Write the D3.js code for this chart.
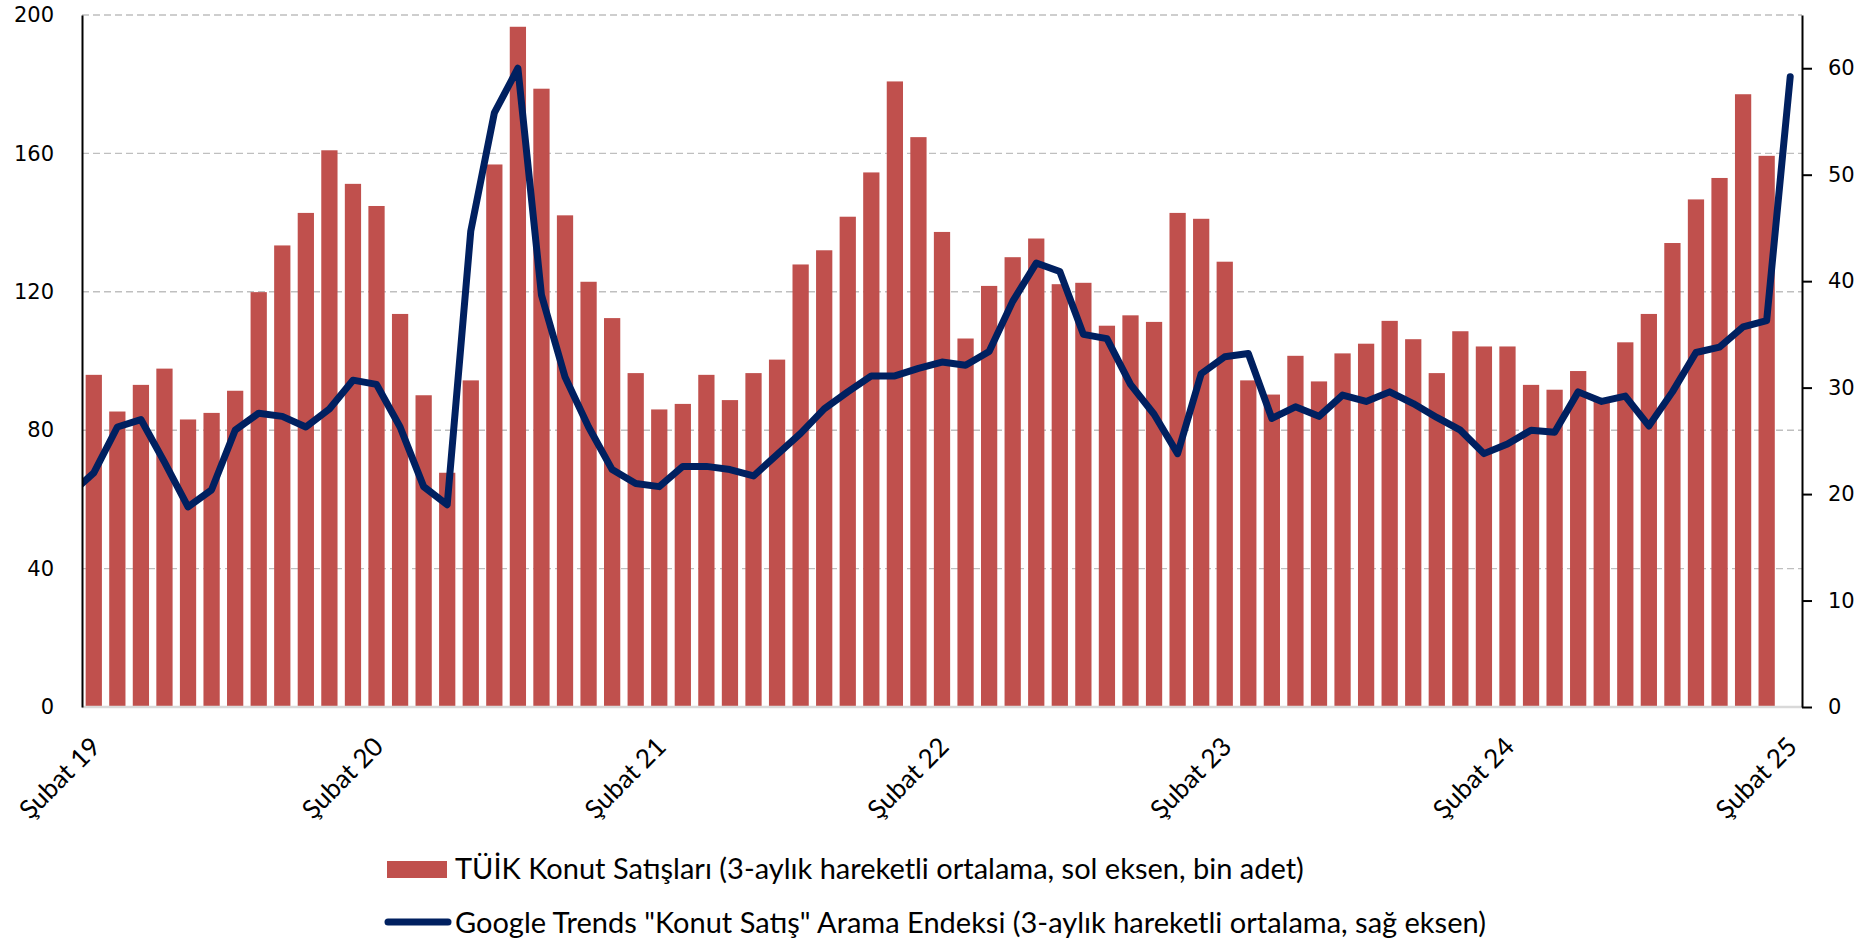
<!doctype html>
<html>
<head>
<meta charset="utf-8">
<script src="https://d3js.org/d3.v7.min.js"></script>
<style>
  body { margin: 0; background: #fff; }
</style>
</head>
<body>
<script>
    var width = 1870, height = 945;
    var plotLeft = 82, plotRight = 1802, plotTop = 15, plotBottom = 707;

    // months from Ocak 2019 to Şubat 2025
    var fmt = d3.timeFormat("%Y-%m");
    var months = d3.timeMonths(new Date(2019, 0, 1), new Date(2025, 2, 1)).map(fmt);

    // TÜİK konut satışları, bin adet (Şubat 2019 - Ocak 2025)
    var salesMonths = months.slice(1, 73);
    var salesValues = [96.0, 85.4, 93.1, 97.8, 83.1, 85.0, 91.4, 119.9, 133.4, 142.8,
                       160.9, 151.2, 144.8, 113.6, 90.1, 67.7, 94.4, 156.8, 196.6, 178.7,
                       142.1, 122.9, 112.4, 96.5, 86.0, 87.6, 96.0, 88.7, 96.5, 100.4,
                       127.9, 132.0, 141.7, 154.5, 180.8, 164.7, 137.3, 106.5, 121.7, 130.0,
                       135.4, 122.2, 122.6, 110.2, 113.2, 111.3, 142.8, 141.1, 128.7, 94.4,
                       90.3, 101.5, 94.1, 102.2, 105.0, 111.6, 106.3, 96.5, 108.6, 104.2,
                       104.2, 93.1, 91.7, 97.1, 88.5, 105.4, 113.6, 134.1, 146.7, 152.9,
                       177.1, 159.3];

    // Google Trends endeksi (Ocak 2019 - Şubat 2025)
    var trendValues = [20.0,
                       22.0, 26.3, 27.0, 23.0, 18.8, 20.4, 26.0, 27.6, 27.3, 26.3,
                       28.0, 30.7, 30.3, 26.3, 20.7, 19.0, 44.7, 55.8, 60.0, 38.7,
                       31.0, 26.3, 22.3, 21.0, 20.7, 22.6, 22.6, 22.3, 21.7, 23.7,
                       25.7, 28.0, 29.6, 31.1, 31.1, 31.8, 32.4, 32.1, 33.4, 38.1,
                       41.7, 40.9, 35.0, 34.6, 30.3, 27.5, 23.8, 31.3, 32.9, 33.2,
                       27.1, 28.2, 27.3, 29.3, 28.7, 29.6, 28.5, 27.2, 26.0, 23.8,
                       24.7, 26.0, 25.8, 29.6, 28.7, 29.2, 26.4, 29.6, 33.3, 33.8,
                       35.7, 36.3, 59.2];

    var tickMonths = ["2019-02", "2020-02", "2021-02", "2022-02", "2023-02", "2024-02", "2025-02"];
    var tickLabels = ["Şubat 19", "Şubat 20", "Şubat 21", "Şubat 22", "Şubat 23", "Şubat 24", "Şubat 25"];
    var leftTicks = [0, 40, 80, 120, 160, 200];
    var rightTicks = [0, 10, 20, 30, 40, 50, 60];

    var legendLabels = ["TÜİK Konut Satışları (3-aylık hareketli ortalama, sol eksen, bin adet)",
                        "Google Trends \"Konut Satış\" Arama Endeksi (3-aylık hareketli ortalama, sağ eksen)"];

    var barColor = "#C0504D", lineColor = "#002060";

    var step = (plotRight - plotLeft) / 73;
    var x = d3.scaleBand()
              .domain(months)
              .range([plotLeft - step, plotRight])
              .paddingInner(0.31)
              .paddingOuter(0.155);
    var yL = d3.scaleLinear().domain([0, 200]).range([plotBottom, plotTop]);
    var yR = d3.scaleLinear().domain([0, 65]).range([plotBottom, plotTop]);

    var svg = d3.select("body").append("svg")
                .attr("width", width)
                .attr("height", height)
                .style("display", "block");

    svg.append("clipPath").attr("id", "plot")
       .append("rect")
       .attr("x", plotLeft).attr("y", 0)
       .attr("width", plotRight - plotLeft).attr("height", plotBottom + 5);

    // gridlines
    svg.append("g").selectAll("line")
       .data(leftTicks.filter(function(d){ return d > 0; }))
       .enter().append("line")
       .attr("x1", plotLeft).attr("x2", plotRight)
       .attr("y1", function(d){ return yL(d); })
       .attr("y2", function(d){ return yL(d); })
       .attr("stroke", "#BFBFBF")
       .attr("stroke-width", 1.4)
       .attr("stroke-dasharray", "7,4");

    // bars
    svg.append("g").attr("clip-path", "url(#plot)")
       .selectAll("rect")
       .data(salesValues)
       .enter().append("rect")
       .attr("x", function(d, i){ return x(salesMonths[i]); })
       .attr("y", function(d){ return yL(d); })
       .attr("width", x.bandwidth())
       .attr("height", function(d){ return yL(0) - yL(d); })
       .attr("fill", barColor);

    // baseline
    svg.append("line")
       .attr("x1", plotLeft).attr("x2", plotRight)
       .attr("y1", yL(0)).attr("y2", yL(0))
       .attr("stroke", "#D9D9D9")
       .attr("stroke-width", 2.5);

    // trend line
    var line = d3.line()
                 .x(function(d, i){ return x(months[i]) + x.bandwidth() / 2; })
                 .y(function(d){ return yR(d); });

    svg.append("path")
       .datum(trendValues)
       .attr("clip-path", "url(#plot)")
       .attr("d", line)
       .attr("fill", "none")
       .attr("stroke", lineColor)
       .attr("stroke-width", 7)
       .attr("stroke-linejoin", "round")
       .attr("stroke-linecap", "round");

    // axes
    var leftAxis = svg.append("g")
                      .attr("transform", "translate(" + plotLeft + ",0)")
                      .call(d3.axisLeft(yL).tickValues(leftTicks).tickSize(0).tickPadding(28));
    var rightAxis = svg.append("g")
                       .attr("transform", "translate(" + plotRight + ",0)")
                       .call(d3.axisRight(yR).tickValues(rightTicks).tickSize(10).tickSizeOuter(0).tickPadding(16));

    [leftAxis, rightAxis].forEach(function(g){
        g.select(".domain").attr("stroke", "#000").attr("stroke-width", 2);
        g.selectAll(".tick line").attr("stroke", "#000").attr("stroke-width", 2);
        g.selectAll("text")
         .attr("fill", "#000")
         .style("font-family", "'DejaVu Sans', Verdana, sans-serif")
         .style("font-size", "21px");
    });

    // x labels
    svg.append("g").selectAll("text")
       .data(tickMonths)
       .enter().append("text")
       .attr("transform", function(d){
           return "translate(" + (x(d) + x.bandwidth() / 2 + 2) + ",742) rotate(-45)";
       })
       .attr("text-anchor", "end")
       .attr("dy", "0.35em")
       .style("font-family", "Lato, sans-serif")
       .style("font-size", "26px")
       .text(function(d, i){ return tickLabels[i]; });

    // legend
    var legend = svg.append("g").style("font-family", "Lato, sans-serif").style("font-size", "29px");
    legend.append("rect")
          .attr("x", 387).attr("y", 861)
          .attr("width", 60).attr("height", 17)
          .attr("fill", barColor);
    legend.append("text")
          .attr("x", 455).attr("y", 879)
          .text(legendLabels[0]);
    legend.append("line")
          .attr("x1", 388).attr("x2", 448)
          .attr("y1", 922).attr("y2", 922)
          .attr("stroke", lineColor)
          .attr("stroke-width", 7)
          .attr("stroke-linecap", "round");
    legend.append("text")
          .attr("x", 455).attr("y", 933)
          .text(legendLabels[1]);
</script>
</body>
</html>
